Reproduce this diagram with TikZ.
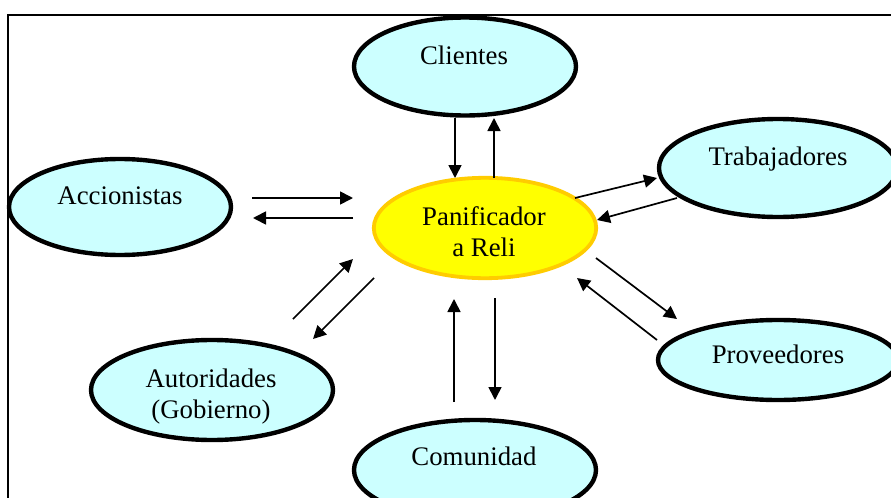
\documentclass[tikz,border=0pt]{standalone}
\usepackage{fontspec}
\setmainfont{Liberation Serif}
\usetikzlibrary{shapes.geometric,arrows.meta}
\definecolor{paleaqua}{HTML}{CCFFFF}
\definecolor{sunyellow}{HTML}{FFFF00}
\definecolor{goldrim}{HTML}{FFCC00}
\begin{document}
\begin{tikzpicture}[x=0.5pt,y=-0.5pt,
  party/.style={ellipse, draw=black, line width=2.2pt, fill=paleaqua, inner sep=0pt},
  hub/.style={ellipse, draw=goldrim, line width=1.9pt, fill=sunyellow, inner sep=0pt},
  caption/.style={font=\fontsize{13.4}{15.5}\selectfont, align=center, inner sep=0pt},
  flow/.style={line width=0.85pt, -{Triangle[length=6.5pt,width=6.5pt]}},
]
\useasboundingbox (0,0) rectangle (891,498);
\clip (0,0) rectangle (891,498);

% outer frame (only its top and left sides fall inside the page)
\draw[line width=0.8pt] (8,520) -- (8,15) -- (910,15);

% stakeholder ellipses
\node[party, minimum width=111pt, minimum height=49pt] (cli) at (465,66.5) {};
\node[party, minimum width=111pt, minimum height=48pt] (acc) at (120,207) {};
\node[party, minimum width=119pt, minimum height=49pt] (tra) at (778,168) {};
\node[party, minimum width=120pt, minimum height=40pt] (pro) at (778,360) {};
\node[party, minimum width=121pt, minimum height=50pt] (aut) at (212,390) {};
\node[party, minimum width=121pt, minimum height=50pt] (com) at (475,470) {};
\node[hub, minimum width=111.2pt, minimum height=50.2pt] (pan) at (485,228) {};

% captions
\node[caption, anchor=base] (cliT) at (464,64) {Clientes};
\node[caption, anchor=base] (accT) at (120,204) {Accionistas};
\node[caption, anchor=base] (traT) at (778,165) {Trabajadores};
\node[caption, anchor=base] (proT) at (778,363) {Proveedores};
\node[caption, anchor=base] (comT) at (474,465) {Comunidad};
\node[caption] (autT) at (211,396.5) {Autoridades\\(Gobierno)};
\node[caption] (panT) at (484,232) {Panificador\\a Reli};

% arrow end points
\coordinate (c1a) at (455,118); \coordinate (c1b) at (455,178);
\coordinate (c2a) at (494,178); \coordinate (c2b) at (494,118);
\coordinate (a1a) at (252,198); \coordinate (a1b) at (353,198);
\coordinate (a2a) at (353,218); \coordinate (a2b) at (253,218);
\coordinate (t1a) at (575,198); \coordinate (t1b) at (657,178);
\coordinate (t2a) at (677,198); \coordinate (t2b) at (597,220);
\coordinate (p1a) at (596,258); \coordinate (p1b) at (677,319);
\coordinate (p2a) at (657,340); \coordinate (p2b) at (577,278);
\coordinate (m1a) at (454,402); \coordinate (m1b) at (454,299);
\coordinate (m2a) at (495,298); \coordinate (m2b) at (495,400);
\coordinate (g1a) at (293,319); \coordinate (g1b) at (353,259);
\coordinate (g2a) at (374,278); \coordinate (g2b) at (313,339);

% flows between the bakery and each party
\draw[flow] (c1a) -- (c1b);
\draw[flow] (c2a) -- (c2b);
\draw[flow] (a1a) -- (a1b);
\draw[flow] (a2a) -- (a2b);
\draw[flow] (t1a) -- (t1b);
\draw[flow] (t2a) -- (t2b);
\draw[flow] (p1a) -- (p1b);
\draw[flow] (p2a) -- (p2b);
\draw[flow] (m1a) -- (m1b);
\draw[flow] (m2a) -- (m2b);
\draw[flow] (g1a) -- (g1b);
\draw[flow] (g2a) -- (g2b);
\end{tikzpicture}
\end{document}
